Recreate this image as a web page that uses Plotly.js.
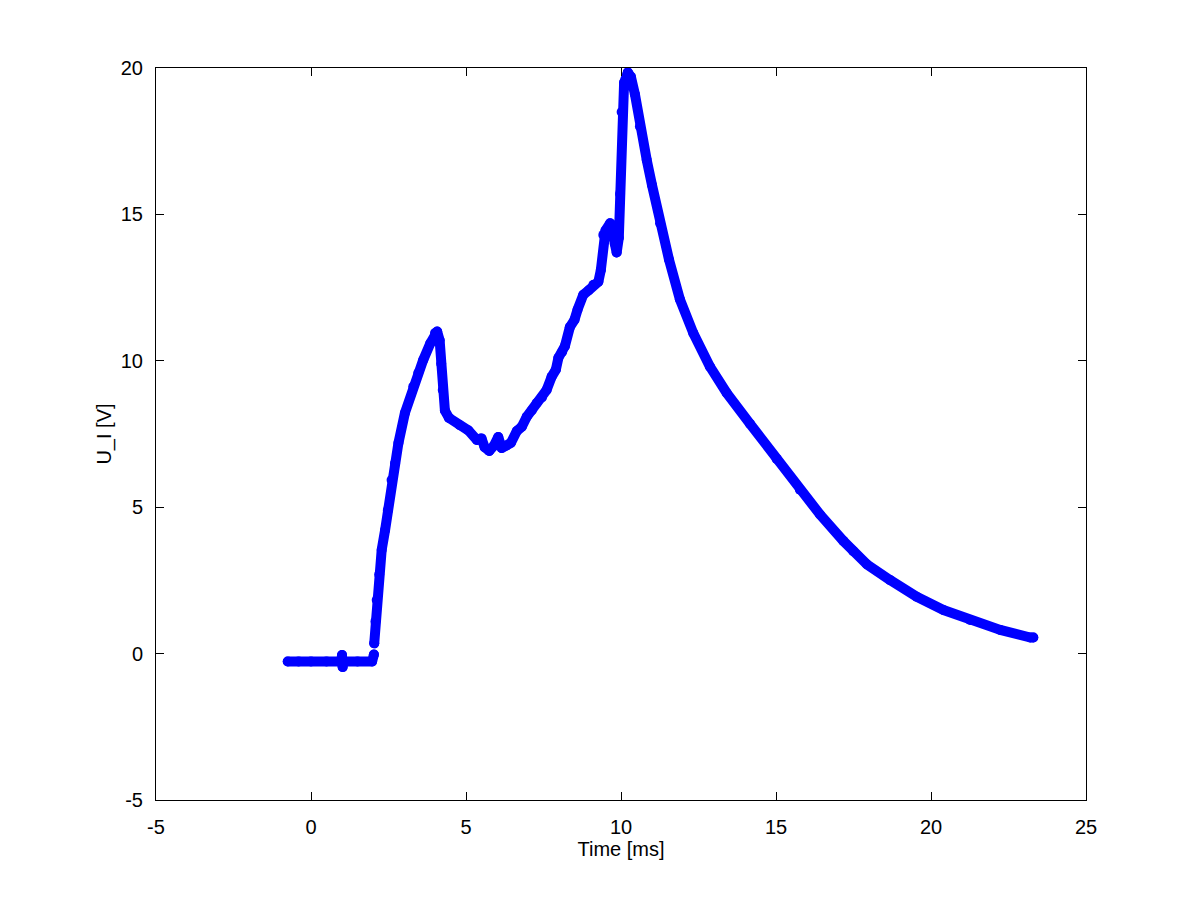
<!DOCTYPE html>
<html>
<head>
<meta charset="utf-8">
<script src="https://cdn.plot.ly/plotly-3.0.1.min.js"></script>
<style>
html, body { margin: 0; padding: 0; background: #fff; }
#chart { width: 1200px; height: 900px; }
.js-line { stroke-linejoin: round !important; stroke-linecap: round !important; }
</style>
</head>
<body>
<div id="chart"></div>
<script>
// Time [ms]
const timeMs = [
  -0.75, -0.4, 0.0, 0.5, 0.9, 0.98, 1.0, 1.02, 1.05, 1.5, 1.97, 2.03, null,
  2.04, 2.08, 2.12, 2.2, 2.28, 2.39, 2.48, 2.6, 2.71, 2.82, 3.03, 3.3, 3.46, 3.62, 3.85, 4.0, 4.07,
  4.15, 4.2, 4.25, 4.32, 4.45, 4.8, 5.08, 5.35, 5.5, 5.6, 5.75, 5.9, 6.04, 6.15,
  6.3, 6.45, 6.64, 6.8, 6.96, 7.12, 7.28, 7.45, 7.6, 7.76, 7.9, 7.98, 8.1, 8.19,
  8.35, 8.5, 8.6, 8.78, 8.95, 9.11, 9.27, 9.35, 9.43, 9.5, 9.65, 9.72, 9.8, 9.86,
  9.93, 9.97, 10.02, 10.1, 10.22, 10.32, 10.45, 10.61, 10.83, 11.0, 11.26, 11.55,
  11.9, 12.33, 12.87, 13.41, 14.16, 15.02, 15.77, 16.42, 17.17, 17.49, 17.93, 18.68, 19.54,
  20.4, 21.26, 22.23, 23.2, 23.3
];
// U_I [V]
const voltage = [
  -0.27, -0.27, -0.27, -0.27, -0.27, -0.27, -0.05, -0.46, -0.27, -0.27, -0.27, -0.03, null,
  0.35, 1.1, 1.83, 2.7, 3.54, 4.22, 4.9, 5.93, 6.5, 7.19, 8.22, 9.12, 9.58, 10.03, 10.6, 10.95, 11.0,
  10.7, 9.9, 9.0, 8.3, 8.05, 7.8, 7.62, 7.3, 7.35, 7.05, 6.92, 7.1, 7.4, 7.02,
  7.1, 7.2, 7.6, 7.75, 8.09, 8.3, 8.56, 8.75, 9.0, 9.45, 9.7, 10.1, 10.3, 10.5,
  11.15, 11.4, 11.75, 12.25, 12.4, 12.6, 12.7, 13.1, 14.3, 14.45, 14.7, 14.6, 14.0, 13.7,
  14.2, 15.7, 18.5, 19.5, 19.85, 19.7, 19.1, 18.0, 16.86, 16.0, 14.7, 13.45,
  12.1, 10.95, 9.8, 8.9, 7.85, 6.65, 5.6, 4.75, 3.85, 3.5, 3.05, 2.51, 1.94,
  1.49, 1.15, 0.81, 0.55, 0.55
];
const xTicks = [-5, 0, 5, 10, 15, 20, 25];
const yTicks = [-5, 0, 5, 10, 15, 20];

const axisFont = { family: 'Liberation Sans, Arial, sans-serif', size: 20, color: '#000' };

const trace = {
  x: timeMs,
  y: voltage,
  type: 'scatter',
  mode: 'lines+markers',
  line: { color: '#0000ff', width: 10 },
  marker: { color: '#0000ff', size: 10 },
  connectgaps: false,
  hoverinfo: 'skip'
};

const layout = {
  width: 1200,
  height: 900,
  paper_bgcolor: '#fff',
  plot_bgcolor: '#fff',
  showlegend: false,
  margin: { l: 156, r: 114, t: 68, b: 100 },
  font: axisFont,
  xaxis: {
    range: [-5, 25],
    tickvals: xTicks,
    ticktext: xTicks.map(String),
    showgrid: false,
    zeroline: false,
    showline: true,
    linecolor: '#000',
    linewidth: 1,
    mirror: 'ticks',
    ticks: 'inside',
    ticklen: 8,
    tickcolor: '#000',
    tickfont: axisFont,
    ticklabelstandoff: 9,
    title: { text: 'Time [ms]', font: axisFont, standoff: 4 }
  },
  yaxis: {
    range: [-5, 20],
    tickvals: yTicks,
    ticktext: yTicks.map(String),
    showgrid: false,
    zeroline: false,
    showline: true,
    linecolor: '#000',
    linewidth: 1,
    mirror: 'ticks',
    ticks: 'inside',
    ticklen: 8,
    tickcolor: '#000',
    tickfont: axisFont,
    ticklabelstandoff: 8,
    title: { text: 'U_I [V]', font: axisFont, standoff: 3 }
  }
};

Plotly.newPlot('chart', [trace], layout, { staticPlot: true, displayModeBar: false });
</script>
</body>
</html>
